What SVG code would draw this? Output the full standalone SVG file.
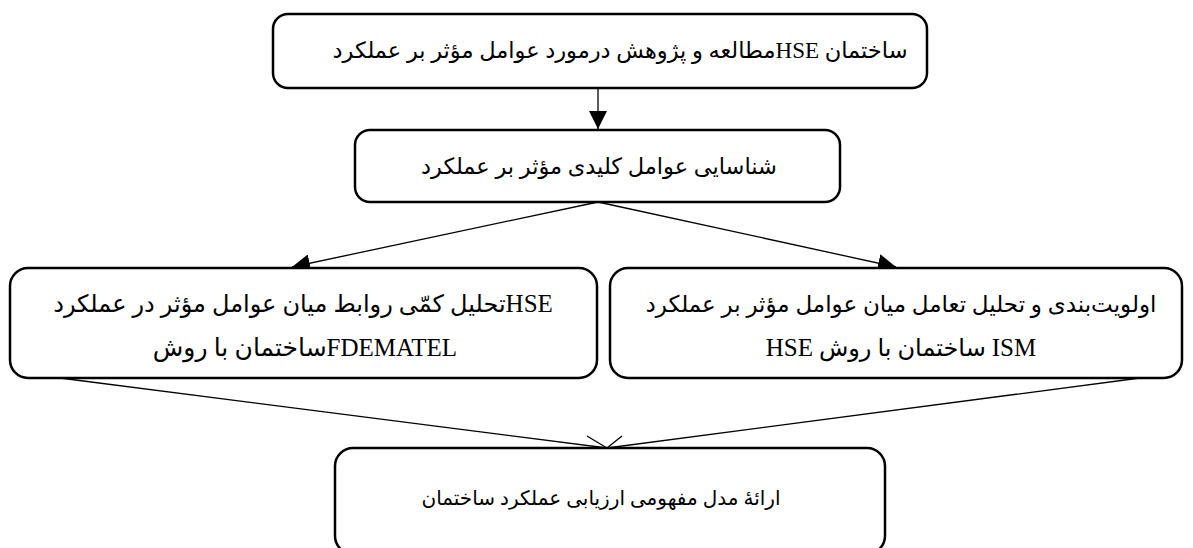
<svg xmlns="http://www.w3.org/2000/svg" width="1193" height="548" viewBox="0 0 1193 548">
<style>
.box{fill:#fff;stroke:#000;stroke-width:2.5}
.t{font-family:"Liberation Serif","DejaVu Sans",serif;fill:#000}
.c{stroke:#000;stroke-width:1.3;fill:none}
</style>
<defs>
<marker id="ah" viewBox="0 0 10 10" refX="10" refY="5" markerWidth="18" markerHeight="18" markerUnits="userSpaceOnUse" orient="auto">
<path d="M0,0 L10,5 L0,10 z" fill="#000"/>
</marker>
</defs>
<rect width="1193" height="548" fill="#fff"/>
<g id="connectors">
<line class="c" x1="598" y1="88" x2="598" y2="129" marker-end="url(#ah)"/>
<line class="c" x1="598" y1="202" x2="292" y2="267" marker-end="url(#ah)"/>
<line class="c" x1="598" y1="202" x2="896" y2="267" marker-end="url(#ah)"/>
<line class="c" x1="60" y1="378" x2="607" y2="448"/>
<line class="c" x1="1140" y1="378" x2="607" y2="448"/>
<path class="c" d="M607,448 L587,436 M607,448 L622,436 M607,448 L585,456 M607,448 L625,456"/>
</g>
<g id="n1">
<rect class="box" x="273" y="14" width="654" height="74" rx="15"/>
<text class="t" x="620" y="58" font-size="22.5" text-anchor="middle">مطالعه و پژوهش درمورد عوامل مؤثر بر عملکرد<tspan font-size="23">HSE</tspan> ساختمان</text>
</g>
<g id="n2">
<rect class="box" x="355" y="130" width="485" height="72" rx="15"/>
<text class="t" x="599" y="174" font-size="22.5" text-anchor="middle">شناسایی عوامل کلیدی مؤثر بر عملکرد</text>
</g>
<g id="n3">
<rect class="box" x="10" y="268" width="587" height="110" rx="18"/>
<text class="t" x="303" y="312" font-size="24" text-anchor="middle">تحلیل کمّی روابط میان عوامل مؤثر در عملکرد<tspan font-size="25">HSE</tspan></text>
<text class="t" x="305" y="356" font-size="25" text-anchor="middle">ساختمان با روش<tspan font-size="25">FDEMATEL</tspan></text>
</g>
<g id="n4">
<rect class="box" x="610" y="268" width="572" height="110" rx="18"/>
<text class="t" x="901" y="312" font-size="23" text-anchor="middle">اولویت‌بندی و تحلیل تعامل میان عوامل مؤثر بر عملکرد</text>
<text class="t" x="901" y="356" font-size="24" text-anchor="middle"><tspan font-size="25">HSE</tspan> ساختمان با روش <tspan font-size="25">ISM</tspan></text>
</g>
<g id="n5">
<rect class="box" x="335" y="448" width="550" height="106" rx="18"/>
<text class="t" x="601" y="505" font-size="20" text-anchor="middle">ارائهٔ مدل مفهومی ارزیابی عملکرد ساختمان</text>
</g>
</svg>
